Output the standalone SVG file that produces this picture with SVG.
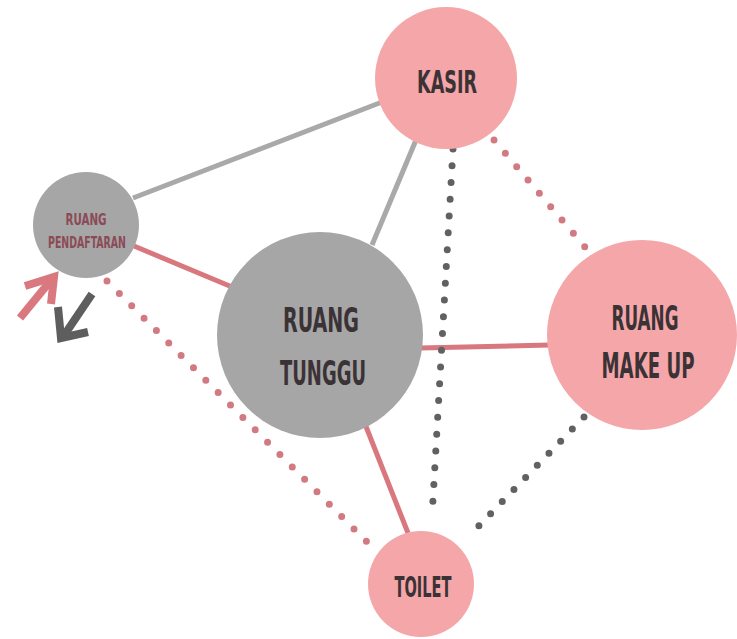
<svg xmlns="http://www.w3.org/2000/svg" width="737" height="639" viewBox="0 0 737 639">
<style>
.pink{fill:#f4a6a9}
.gray{fill:#a6a6a6}
.solid-g{stroke:#a9a9a9;stroke-width:5;fill:none}
.solid-p{stroke:#d9777e;stroke-width:5;fill:none}
.dot-p{stroke:#d27a82;stroke-width:7;stroke-linecap:round;stroke-dasharray:0 17.5;fill:none}
.dot-d{stroke:#616161;stroke-width:7;stroke-linecap:round;stroke-dasharray:0 16.8;fill:none}
.lbl{font-family:"Liberation Sans Narrow","DejaVu Sans Condensed","Liberation Sans",sans-serif;font-weight:bold;fill:#3b3236;text-anchor:middle}
.small{fill:#8b4a57}
</style>
<rect width="737" height="639" fill="#ffffff"/>
<g id="connectors">
<line class="solid-g" x1="133" y1="198" x2="382" y2="102"/>
<line class="solid-g" x1="372" y1="245" x2="416" y2="140"/>
<line class="solid-p" x1="134" y1="246" x2="232" y2="287"/>
<line class="solid-p" x1="420" y1="348" x2="550" y2="345"/>
<line class="solid-p" x1="365" y1="424" x2="408" y2="533"/>
<line class="dot-p" x1="107" y1="281" x2="368" y2="543"/>
<line class="dot-p" x1="494" y1="140" x2="585" y2="247"/>
<line class="dot-d" x1="453" y1="149" x2="432" y2="517"/>
<line class="dot-d" x1="584" y1="417" x2="468" y2="537"/>
</g>
<g id="arrows">
<path d="M20 318 L52 279" stroke="#d9787e" stroke-width="8" fill="none"/>
<path d="M25 286 L54 277 L51 304" stroke="#d9787e" stroke-width="8" fill="none"/>
<path d="M92 294 L63 337" stroke="#5e5e5e" stroke-width="8" fill="none"/>
<path d="M58 307 L61 338 L88 332" stroke="#5e5e5e" stroke-width="8" fill="none"/>
</g>
<g id="kasir">
<circle class="pink" cx="446" cy="78" r="71"/>
<text class="lbl" transform="translate(447 93) scale(1 1.36)" font-size="23.5" textLength="60" lengthAdjust="spacingAndGlyphs">KASIR</text>
</g>
<g id="ruang-pendaftaran">
<circle class="gray" cx="86" cy="225" r="53"/>
<text class="lbl small" transform="translate(86 225) scale(1 1.25)" font-size="13" textLength="41" lengthAdjust="spacingAndGlyphs">RUANG</text>
<text class="lbl small" transform="translate(87 248) scale(1 1.25)" font-size="12.5" textLength="78" lengthAdjust="spacingAndGlyphs">PENDAFTARAN</text>
</g>
<g id="ruang-tunggu">
<circle class="gray" cx="320" cy="335" r="103"/>
<text class="lbl" transform="translate(321 332) scale(1 1.35)" font-size="25" textLength="76" lengthAdjust="spacingAndGlyphs">RUANG</text>
<text class="lbl" transform="translate(323 385) scale(1 1.35)" font-size="24.5" textLength="86" lengthAdjust="spacingAndGlyphs">TUNGGU</text>
</g>
<g id="ruang-make-up">
<circle class="pink" cx="642" cy="335" r="95"/>
<text class="lbl" transform="translate(645 330) scale(1 1.45)" font-size="23" textLength="67" lengthAdjust="spacingAndGlyphs">RUANG</text>
<text class="lbl" transform="translate(648 378) scale(1 1.45)" font-size="24" textLength="93" lengthAdjust="spacingAndGlyphs">MAKE UP</text>
</g>
<g id="toilet">
<circle class="pink" cx="421" cy="584" r="53"/>
<text class="lbl" transform="translate(423 597) scale(1 1.42)" font-size="19.5" textLength="57" lengthAdjust="spacingAndGlyphs">TOILET</text>
</g>
</svg>
